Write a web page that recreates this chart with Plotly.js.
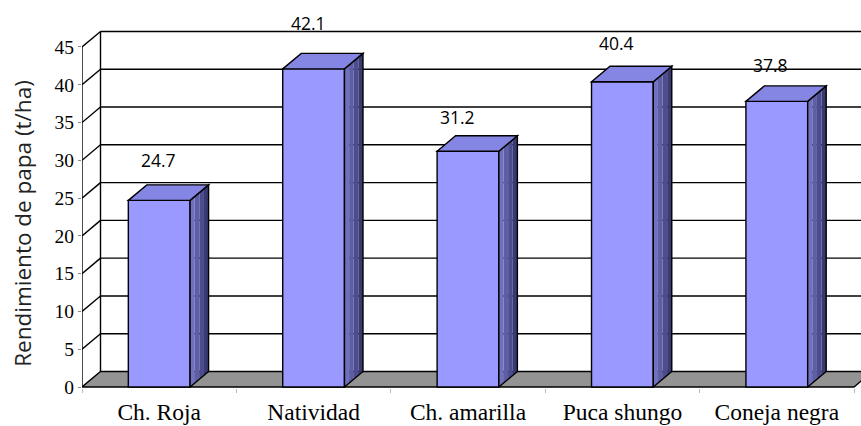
<!DOCTYPE html>
<html>
<head>
<meta charset="utf-8">
<script src="https://cdn.plot.ly/plotly-3.0.1.min.js"></script>
<style>
  html, body { margin: 0; padding: 0; background: #fff; }
  #chart { width: 861px; height: 426px; }
</style>
</head>
<body>
<div id="chart"></div>
<script>
// Potato yield (t/ha) for five varieties
const varieties = ['Ch. Roja', 'Natividad', 'Ch. amarilla', 'Puca shungo', 'Coneja negra'];
const yieldTHa = [24.7, 42.1, 31.2, 40.4, 37.8];
const yTicks = [0, 5, 10, 15, 20, 25, 30, 35, 40, 45];

// ---- geometry of the 3-D box ----
const W = 861, H = 426;
const M = { l: 82, r: 0, t: 0, b: 38 };
const PX_PER_UNIT = 7.556;          // vertical scale
const PX_PER_CAT = 154.4;           // horizontal scale
const DX = 18.5 / PX_PER_CAT;       // depth offset (x, axis units)
const DY = 15.5 / PX_PER_UNIT;      // depth offset (y, axis units)
const BAR_W = 0.4;
const N = varieties.length;
const X0 = -0.5, X1 = N - 0.5;
const YTOP = yTicks[yTicks.length - 1];
const LW = 1.4;

const shapes = [];
function seg(x0, y0, x1, y1, layer) {
  shapes.push({ type: 'line', xref: 'x', yref: 'y', x0, y0, x1, y1,
    line: { color: '#000', width: LW }, layer: layer || 'below' });
}
function poly(pts, fill, layer, lw) {
  shapes.push({ type: 'path', xref: 'x', yref: 'y',
    path: 'M' + pts.map(p => p[0] + ',' + p[1]).join('L') + 'Z',
    fillcolor: fill,
    line: { color: lw ? '#000' : 'rgba(0,0,0,0)', width: lw || 0 },
    layer: layer });
}

// floor
poly([[X0, 0], [X1, 0], [X1 + DX, DY], [X0 + DX, DY]], '#939393', 'below', LW);
// back wall gridlines and side-wall diagonals
yTicks.forEach(v => {
  if (v === 0) return;
  seg(X0 + DX, v + DY, X1 + DX, v + DY);
  seg(X0, v, X0 + DX, v + DY);
});
// back wall left edge and front value axis
seg(X0 + DX, DY, X0 + DX, YTOP + DY);
seg(X0, 0, X0, YTOP);

// bar top and side faces
const sideCols = ['#7070bc', '#5e5ea6', '#4c4c8e', '#3a3a72'];
yieldTHa.forEach((v, i) => {
  const xL = i - BAR_W / 2, xR = i + BAR_W / 2;
  const k = sideCols.length;
  for (let s = 0; s < k; s++) {
    const f0 = s / k, f1 = (s + 1) / k;
    poly([[xR + DX * f0, DY * f0], [xR + DX * f1, DY * f1],
          [xR + DX * f1, v + DY * f1], [xR + DX * f0, v + DY * f0]], sideCols[s], 'above', 0);
  }
  poly([[xR, 0], [xR + DX, DY], [xR + DX, v + DY], [xR, v]], 'rgba(0,0,0,0)', 'above', LW);
  poly([[xL, v], [xL + DX, v + DY], [xR + DX, v + DY], [xR, v]], '#8585e4', 'above', LW);
});

// value labels, nudged in pixels
const labelDx = [-0.5, -5, -11, -6, -6];
const labelDy = [40, 46, 34, 39, 36];
const annotations = yieldTHa.map((v, i) => ({
  x: i, y: v, xref: 'x', yref: 'y', text: v.toFixed(1), showarrow: false,
  xshift: labelDx[i], yshift: labelDy[i], xanchor: 'center', yanchor: 'middle',
  font: { family: 'Open Sans, sans-serif', size: 17.5, color: '#000' }
}));
annotations.push({
  xref: 'paper', yref: 'y', x: -(M.l - 23) / (W - M.l - M.r), y: 21.6,
  text: 'Rendimiento de papa (t/ha)', showarrow: false, textangle: -90,
  xanchor: 'center', yanchor: 'middle',
  font: { family: 'Open Sans, sans-serif', size: 22.5, color: '#222' }
});

const plotW = W - M.l - M.r, plotH = H - M.t - M.b;
const trace = {
  type: 'bar', x: varieties, y: yieldTHa, width: BAR_W,
  marker: { color: '#9999ff', line: { color: '#000', width: LW } },
  hoverinfo: 'skip'
};

const layout = {
  width: W, height: H, margin: M,
  paper_bgcolor: '#fff', plot_bgcolor: '#fff',
  showlegend: false,
  xaxis: {
    type: 'category', range: [X0, X0 + plotW / PX_PER_CAT],
    showgrid: false, zeroline: false, showline: false,
    ticks: 'outside', tickson: 'boundaries', ticklen: 4, tickcolor: '#bbb',
    tickfont: { family: 'Liberation Serif, Times New Roman, serif', size: 23.5, color: '#000' },
    ticklabelstandoff: 7, automargin: false, fixedrange: true
  },
  yaxis: {
    range: [-1 / PX_PER_UNIT, (plotH - 1) / PX_PER_UNIT],
    tickmode: 'array', tickvals: yTicks,
    showgrid: false, zeroline: false, showline: false,
    ticks: 'outside', ticklen: 3, tickcolor: '#888',
    tickfont: { family: 'Liberation Serif, Times New Roman, serif', size: 19.5, color: '#000' },
    automargin: false, fixedrange: true
  },
  shapes, annotations
};

Plotly.newPlot('chart', [trace], layout, { displayModeBar: false, staticPlot: true });
</script>
</body>
</html>
